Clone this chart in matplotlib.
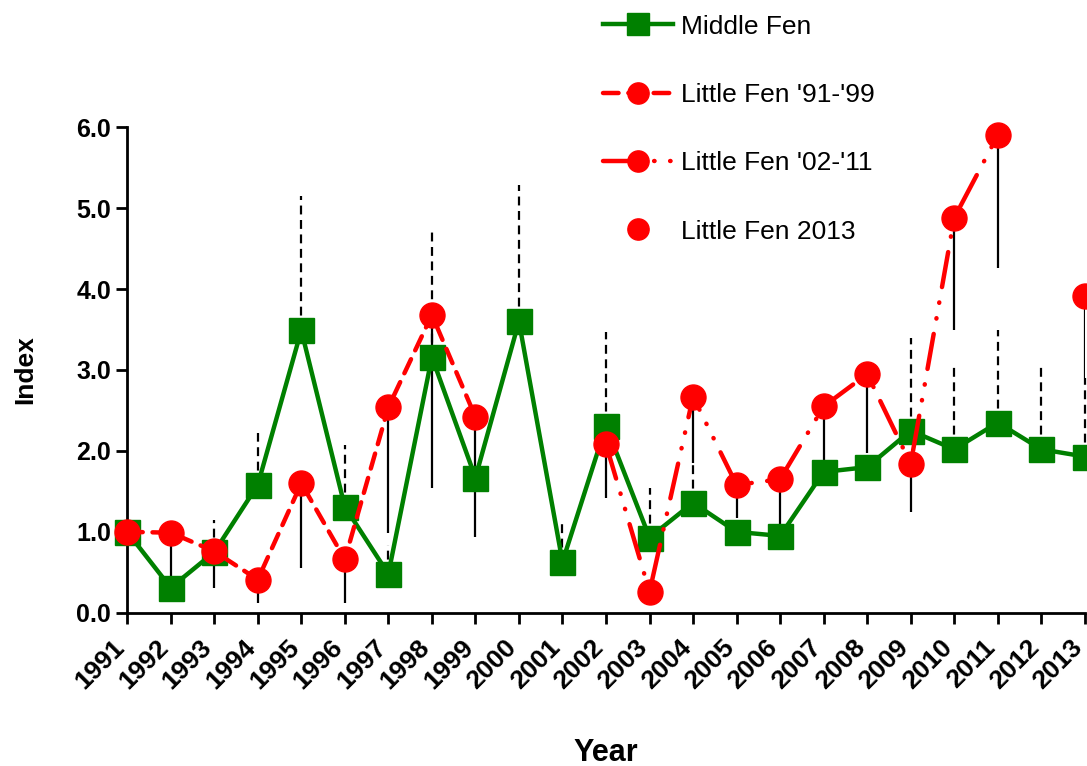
import matplotlib
matplotlib.use("Agg")
import matplotlib.pyplot as plt
import matplotlib.transforms as mtransforms
import numpy as np

plt.rcParams['font.family'] = ['Liberation Sans', 'DejaVu Sans']

# data
years = list(range(1991, 2014))
middleFen = [1.00, 0.31, 0.75, 1.58, 3.49, 1.31, 0.48, 3.16, 1.67, 3.60, 0.63, 2.31,
             0.93, 1.36, 1.00, 0.95, 1.74, 1.80, 2.25, 2.02, 2.35, 2.02, 1.93]
# top of the (upper) error bar for Middle Fen
middleFenTop = [1.00, 0.31, 1.15, 2.22, 5.15, 2.07, 0.84, 4.70, 1.67, 5.28, 1.11, 3.47,
                1.54, 1.85, 1.00, 0.95, 1.74, 1.80, 3.40, 3.04, 3.49, 3.04, 2.90]

years91 = list(range(1991, 2000))
little91 = [1.00, 0.99, 0.76, 0.41, 1.60, 0.66, 2.54, 3.68, 2.42]
little91Low = [1.00, 0.30, 0.31, 0.12, 0.55, 0.12, 0.98, 1.54, 0.94]

years02 = list(range(2002, 2012))
little02 = [2.08, 0.26, 2.67, 1.58, 1.65, 2.55, 2.95, 1.84, 4.88, 5.90]
little02Low = [1.42, 0.26, 1.85, 1.17, 1.00, 1.89, 1.97, 1.25, 3.49, 4.26]

years13 = [2013]
little13 = [3.92]
little13Low = [2.90]

fig = plt.figure(figsize=(10.87, 7.66), dpi=100)
ax = fig.add_axes([0.117, 0.2, 0.881, 0.634])

# error bars: dashed up for Middle Fen, solid down for Little Fen
mf = np.array(middleFen)
ax.vlines(years, mf, middleFenTop, colors='black', linestyles=(0, (4, 2.5)),
          linewidth=1.6, zorder=1, clip_on=False)
ax.vlines(years91, little91Low, little91, colors='black', linewidth=1.6, zorder=1)
ax.vlines(years02, little02Low, little02, colors='black', linewidth=1.6, zorder=1)
ax.vlines(years13, little13Low, little13, colors='black', linewidth=1.6, zorder=1)

ax.plot(years, middleFen, color='#008000', marker='s', markersize=18, linewidth=3.2,
        label='Middle Fen', zorder=3, clip_on=False)
ax.plot(years91, little91, color='red', marker='o', markersize=18, linewidth=3.2,
        linestyle=(0, (3.5, 2.2)), dash_capstyle='round', label="Little Fen '91-'99",
        zorder=4, clip_on=False)
ax.plot(years02, little02, color='red', marker='o', markersize=18, linewidth=3.2,
        linestyle=(0, (8, 3.5, 0.1, 3.5, 0.1, 3.5)), dash_capstyle='round',
        label="Little Fen '02-'11", zorder=4, clip_on=False)
ax.plot(years13, little13, color='red', marker='o', markersize=18, linestyle='none',
        label='Little Fen 2013', zorder=4, clip_on=False)

ax.set_xlim(1991, 2013)
ax.set_ylim(0, 6)
ax.set_xticks(years)
ax.set_xticklabels([str(y) for y in years], rotation=45, ha='right', va='center',
                   rotation_mode='anchor', fontsize=19, fontweight='bold')
ax.set_yticks(np.arange(0, 7, 1))
ax.set_yticklabels([f"{v:.1f}" for v in range(7)], fontsize=18, fontweight='bold')
ax.tick_params(direction='out', length=8, width=2)
ax.tick_params(axis='x', pad=14)
# nudge the rotated year labels a little left so the last one stays inside
shift = mtransforms.ScaledTranslation(-6 / 100, 0, fig.dpi_scale_trans)
for lbl in ax.get_xticklabels():
    lbl.set_transform(lbl.get_transform() + shift)

for side in ['top', 'right']:
    ax.spines[side].set_visible(False)
for side in ['left', 'bottom']:
    ax.spines[side].set_linewidth(2)

ax.set_xlabel('Year', fontsize=22, fontweight='bold', labelpad=32)
ax.set_ylabel('Index', fontsize=19, fontweight='bold', labelpad=28)

fig.legend(loc='upper left', bbox_to_anchor=(0.533, 1.012), frameon=False,
           fontsize=19, handlelength=2.65, labelspacing=1.68, handletextpad=0.3,
           numpoints=1, markerscale=0.85)

plt.savefig('out.png', dpi=100)
